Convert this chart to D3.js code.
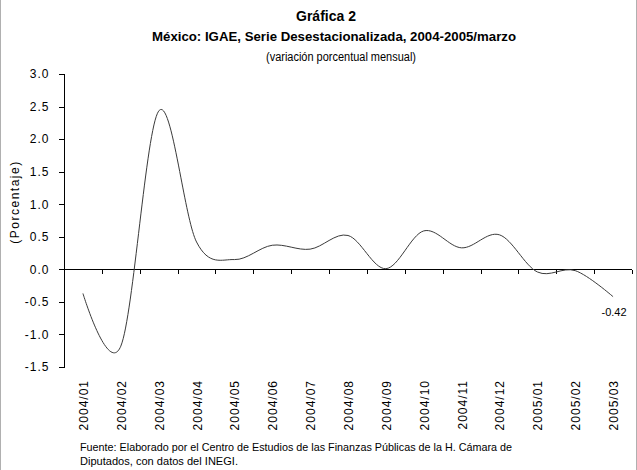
<!DOCTYPE html>
<html>
<head>
<meta charset="utf-8">
<title>Gráfica 2</title>
<style>
  body { margin: 0; background-color: #fff; overflow: hidden; }
  svg { display: block; font-family: "Liberation Sans", Arial, sans-serif; }
  .axis path, .axis line { stroke: #000; shape-rendering: crispEdges; }
</style>
</head>
<body>
<svg id="chart"></svg>
<script src="https://cdnjs.cloudflare.com/ajax/libs/d3/7.8.5/d3.min.js"></script>
<script>
  const months = ["2004/01", "2004/02", "2004/03", "2004/04", "2004/05", "2004/06", "2004/07",
                  "2004/08", "2004/09", "2004/10", "2004/11", "2004/12", "2005/01", "2005/02", "2005/03"];
  const values = [-0.37, -1.18, 2.43, 0.42, 0.15, 0.37, 0.31, 0.52, 0.01, 0.59, 0.33, 0.53, -0.04, -0.02, -0.42];
  const yTicks = [-1.5, -1.0, -0.5, 0.0, 0.5, 1.0, 1.5, 2.0, 2.5, 3.0];

  const width = 637, height = 470;
  const svg = d3.select("#chart").attr("width", width).attr("height", height);

  // frame edges
  svg.append("line").attr("x1", 0.5).attr("x2", 0.5).attr("y1", 0).attr("y2", height).attr("stroke", "#b0b0b0");
  svg.append("line").attr("x1", width - 0.5).attr("x2", width - 0.5).attr("y1", 0).attr("y2", height).attr("stroke", "#b0b0b0");

  const x = d3.scaleBand().domain(months).range([64, 632]).padding(0);
  const y = d3.scaleLinear().domain([-1.5, 3]).range([367, 74]);

  // titles
  svg.append("text").attr("x", 326).attr("y", 21).attr("text-anchor", "middle")
    .attr("font-size", 14).attr("font-weight", "bold").text("Gráfica 2");
  svg.append("text").attr("x", 334).attr("y", 41).attr("text-anchor", "middle")
    .attr("font-size", 13).attr("font-weight", "bold")
    .attr("textLength", 364).attr("lengthAdjust", "spacingAndGlyphs")
    .text("México: IGAE, Serie Desestacionalizada, 2004-2005/marzo");
  svg.append("text").attr("x", 341).attr("y", 61).attr("text-anchor", "middle")
    .attr("font-size", 12)
    .attr("textLength", 150).attr("lengthAdjust", "spacingAndGlyphs")
    .text("(variación porcentual mensual)");

  // y axis
  const yAxis = svg.append("g").attr("class", "axis")
    .attr("transform", "translate(63.5,0)")
    .call(d3.axisLeft(y).tickValues(yTicks).tickFormat(d => d.toFixed(1)).tickSize(5).tickPadding(9));
  yAxis.selectAll("text").attr("font-size", 12).attr("fill", "#000").style("letter-spacing", "1px");

  svg.append("text")
    .attr("transform", "translate(19,202) rotate(-90)")
    .attr("text-anchor", "middle").attr("font-size", 12)
    .style("letter-spacing", "1.5px")
    .text("(Porcentaje)");

  // x axis on zero line, ticks between categories
  const xAxisG = svg.append("g").attr("class", "axis");
  xAxisG.append("line")
    .attr("x1", 64).attr("x2", 632)
    .attr("y1", Math.round(y(0)) + 0.5).attr("y2", Math.round(y(0)) + 0.5)
    .attr("stroke", "#000");
  xAxisG.selectAll(".tk").data(months).enter().append("line")
    .attr("class", "tk")
    .attr("x1", d => Math.round(x(d) + x.bandwidth()) + 0.5)
    .attr("x2", d => Math.round(x(d) + x.bandwidth()) + 0.5)
    .attr("y1", Math.round(y(0)) + 0.5).attr("y2", Math.round(y(0)) + 5)
    .attr("stroke", "#000");

  // category labels, rotated
  svg.selectAll(".xl").data(months).enter().append("text")
    .attr("class", "xl")
    .attr("transform", d => `translate(${x(d) + x.bandwidth() / 2 + 5},380) rotate(-90)`)
    .attr("text-anchor", "end").attr("font-size", 12)
    .style("letter-spacing", "1px")
    .text(d => d);

  // smoothed series
  const line = d3.line()
    .x((d, i) => x(months[i]) + x.bandwidth() / 2)
    .y(d => y(d))
    .curve(d3.curveCardinal.tension(0));
  svg.append("path").datum(values)
    .attr("d", line).attr("fill", "none")
    .attr("stroke", "#3a3a3a").attr("stroke-width", 1);

  // last value label
  const last = values.length - 1;
  svg.append("text")
    .attr("x", x(months[last]) + x.bandwidth() / 2 + 1)
    .attr("y", y(values[last]) + 19)
    .attr("text-anchor", "middle").attr("font-size", 11)
    .text(values[last].toFixed(2));

  // source note
  svg.append("text").attr("x", 80).attr("y", 451).attr("font-size", 11)
    .attr("textLength", 432).attr("lengthAdjust", "spacingAndGlyphs")
    .text("Fuente: Elaborado por el Centro de Estudios de las Finanzas Públicas de la H. Cámara de");
  svg.append("text").attr("x", 80).attr("y", 465).attr("font-size", 11)
    .attr("textLength", 158).attr("lengthAdjust", "spacingAndGlyphs")
    .text("Diputados, con datos del INEGI.");
</script>
</body>
</html>
